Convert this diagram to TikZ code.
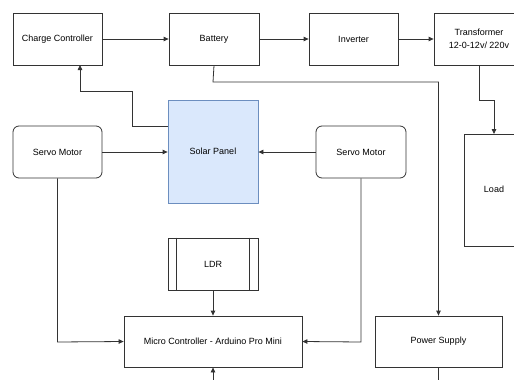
\documentclass[tikz,border=0pt]{standalone}
\usepackage{fontspec}
\setmainfont{Liberation Sans}
\usetikzlibrary{arrows.meta}
\definecolor{edge}{HTML}{333333}
\definecolor{spfill}{HTML}{DAE8FC}
\definecolor{spdraw}{HTML}{6C8EBF}
\begin{document}
\begin{tikzpicture}[x=1pt,y=-1pt,
  box/.style={draw=edge,line width=0.8pt,fill=white,inner sep=0pt,font=\fontsize{9}{13}\selectfont,align=center},
  conn/.style={draw=edge,line width=0.8pt,-{Triangle[length=5pt,width=4.5pt]}},
  plain/.style={draw=edge,line width=0.8pt}]
\useasboundingbox (0,0) rectangle (514,380);
\clip (0,0) rectangle (514,380);
% nodes
\node[box,minimum width=89pt,minimum height=52pt] (cc) at (57.5,39) {Charge Controller};
\node[box,minimum width=90pt,minimum height=52pt] (bat) at (214,39) {Battery};
\node[box,minimum width=89pt,minimum height=52pt] (inv) at (353.5,39) {Inverter};
\node[box,minimum width=90pt,minimum height=52pt] (tr) at (479,39) {Transformer\\12-0-12v/ 220v};
\node[box,minimum width=60pt,minimum height=112pt,anchor=north west] (load) at (464,134) {};
\node[font=\fontsize{9}{13}\selectfont] (loadt) at (494,189) {Load};
\node[box,draw=spdraw,fill=spfill,minimum width=90pt,minimum height=103pt] (sp) at (213,151.5) {Solar Panel};
\node[box,rounded corners=6pt,minimum width=89pt,minimum height=52pt] (sm1) at (57.5,152) {Servo Motor};
\node[box,rounded corners=6pt,minimum width=90pt,minimum height=52pt] (sm2) at (361,152) {Servo Motor};
\node[box,minimum width=90pt,minimum height=52pt] (ldr) at (213,264) {LDR};
\draw[edge,line width=0.8pt] ([xshift=9pt]ldr.north west) -- ([xshift=9pt]ldr.south west)
  ([xshift=-9pt]ldr.north east) -- ([xshift=-9pt]ldr.south east);
\node[box,minimum width=178pt,minimum height=51pt] (mc) at (213,341.5) {Micro Controller - Arduino Pro Mini};
\node[box,minimum width=127pt,minimum height=51pt] (ps) at (438.5,341.5) {Power Supply};
\coordinate (mcin) at (213,380);
\coordinate (psout) at (438.5,380);
% connectors
\draw[conn] (cc.east) -- (bat.west);
\draw[conn] (bat.east) -- (inv.west);
\draw[conn] (inv.east) -- (tr.west);
\draw[conn] (tr.south) -- (479,100) -- (494,100) -- (494,134);
\draw[conn] (bat.south) -- (213,82) -- (438.5,82) -- (ps.north);
\draw[conn] (sp.west |- 0,126) -- (132,126) -- (132,91) -- (80,91) -- (80,65);
\draw[conn] (sm1.east) -- (sp.west |- sm1.east);
\draw[conn] (sm2.west) -- (sp.east |- sm2.west);
\draw[conn] (sm1.south) -- (57.5,342) -- (mc.west);
\draw[conn] (sm2.south) -- (361,342) -- (mc.east);
\draw[conn] (ldr.south) -- (mc.north);
\draw[conn] (mcin) -- (mc.south);
\draw[plain] (ps.south) -- (psout);
\end{tikzpicture}
\end{document}
